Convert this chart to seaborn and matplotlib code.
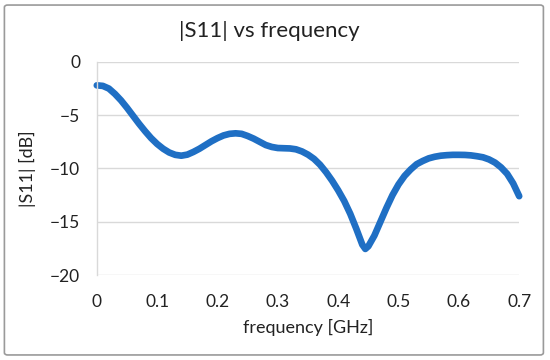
import numpy as np
import pandas as pd
import matplotlib
matplotlib.use("Agg")
import matplotlib.pyplot as plt
import seaborn as sns
from matplotlib.patches import FancyBboxPatch

# |S11|
freq = [0.0, 0.01, 0.02, 0.03, 0.04, 0.05, 0.06, 0.07, 0.08, 0.09,
        0.10, 0.11, 0.12, 0.13, 0.14, 0.15, 0.16, 0.17, 0.18, 0.19,
        0.20, 0.21, 0.22, 0.23, 0.24, 0.25, 0.26, 0.27, 0.28, 0.29,
        0.30, 0.31, 0.32, 0.33, 0.34, 0.35, 0.36, 0.37, 0.38, 0.39,
        0.40, 0.41, 0.42, 0.43, 0.44, 0.445, 0.45, 0.46, 0.47, 0.48,
        0.49, 0.50, 0.51, 0.52, 0.53, 0.54, 0.55, 0.56, 0.57, 0.58,
        0.59, 0.60, 0.61, 0.62, 0.63, 0.64, 0.65, 0.66, 0.67, 0.68,
        0.69, 0.70]
s11 = [-2.2, -2.25, -2.5, -3.0, -3.6, -4.3, -5.05, -5.8, -6.5, -7.15,
       -7.7, -8.15, -8.5, -8.72, -8.8, -8.7, -8.45, -8.15, -7.8, -7.45,
       -7.15, -6.9, -6.75, -6.7, -6.75, -6.95, -7.2, -7.5, -7.8, -7.98,
       -8.08, -8.1, -8.12, -8.2, -8.4, -8.7, -9.1, -9.65, -10.35, -11.15,
       -12.05, -13.05, -14.25, -15.65, -17.15, -17.55, -17.3, -16.3, -15.0, -13.7,
       -12.5, -11.5, -10.7, -10.1, -9.6, -9.3, -9.05, -8.9, -8.8, -8.75,
       -8.72, -8.72, -8.73, -8.77, -8.85, -8.95, -9.15, -9.45, -9.9, -10.5,
       -11.4, -12.6]
xticks = [0, 0.1, 0.2, 0.3, 0.4, 0.5, 0.6, 0.7]
xticklabels = ["0", "0.1", "0.2", "0.3", "0.4", "0.5", "0.6", "0.7"]
yticks = [0, -5, -10, -15, -20]

df = pd.DataFrame({"freq": freq, "s11": s11})

sns.set_theme(style="whitegrid")
plt.rcParams["font.family"] = ["Lato", "DejaVu Sans"]

fig = plt.figure(figsize=(5.5, 3.6), dpi=100)
ax = fig.add_axes([0.176, 0.236, 0.768, 0.592])

sns.lineplot(data=df, x="freq", y="s11", ax=ax, color="#1F6FC4",
             linewidth=4.8, solid_capstyle="round", solid_joinstyle="round",
             clip_on=False)

ax.set_xlim(0, 0.7)
ax.set_ylim(-20, 0)
ax.set_xticks(xticks)
ax.set_xticklabels(xticklabels)
ax.set_yticks(yticks)
ax.grid(axis="y", color="#D9D9D9", linewidth=1)
ax.grid(axis="x", visible=False)
for side in ["top", "right", "bottom"]:
    ax.spines[side].set_visible(False)
ax.spines["left"].set_color("#D9D9D9")
ax.spines["left"].set_linewidth(1)
ax.tick_params(axis="both", length=0, labelsize=12.5, colors="#222222")
ax.tick_params(axis="x", pad=14)
ax.tick_params(axis="y", pad=12)
ax.set_xlabel("frequency [GHz]", fontsize=13, color="#222222", labelpad=6)
ax.set_ylabel("|S11| [dB]", fontsize=13, color="#222222", labelpad=10)
fig.text(0.49, 0.915, "|S11| vs frequency", ha="center", va="center",
         fontsize=16, color="#222222")

border = FancyBboxPatch((0.008, 0.014), 0.98, 0.972, transform=fig.transFigure,
                        boxstyle="round,pad=0,rounding_size=0.006",
                        facecolor="none", edgecolor="#9A9A9A", linewidth=1.2)
fig.patches.append(border)

fig.savefig("out.png", dpi=100)
